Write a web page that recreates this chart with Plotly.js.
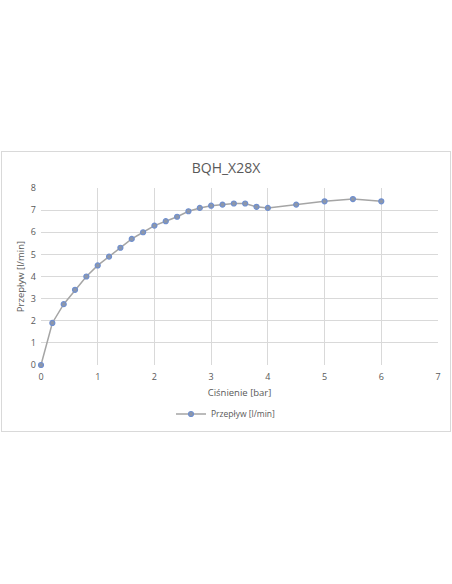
<!DOCTYPE html>
<html>
<head>
<meta charset="utf-8">
<script src="https://cdn.plot.ly/plotly-3.0.1.min.js"></script>
<style>
  body { margin: 0; background: #fff; width: 452px; height: 584px; position: relative; }
  #chartDiv { position: absolute; left: 1px; top: 151px; width: 448px; height: 279px; border: 1px solid #d9d9d9; }
</style>
</head>
<body>
<div id="chartDiv"></div>
<script>
// cisnienie [bar] vs przeplyw [l/min]
var cisnienie = [0, 0.2, 0.4, 0.6, 0.8, 1.0, 1.2, 1.4, 1.6, 1.8, 2.0, 2.2, 2.4, 2.6, 2.8, 3.0, 3.2, 3.4, 3.6, 3.8, 4.0, 4.5, 5.0, 5.5, 6.0];
var przeplyw = [0, 1.9, 2.75, 3.4, 4.0, 4.5, 4.9, 5.3, 5.7, 6.0, 6.3, 6.5, 6.7, 6.95, 7.1, 7.2, 7.25, 7.3, 7.3, 7.15, 7.1, 7.25, 7.4, 7.5, 7.4];
var seriesName = 'Przepływ [l/min]';
var chartTitle = 'BQH_X28X';

var trace1 = {
    x: cisnienie,
    y: przeplyw,
    name: seriesName,
    mode: 'lines+markers',
    type: 'scatter',
    cliponaxis: false,
    line: { color: '#a5a5a5', width: 1.5 },
    marker: {
        size: 5,
        color: '#8e97a8',
        line: { color: '#6f8fcf', width: 1.2 }
    },
    showlegend: true
};

var txt = '#595959';
var layout = {
    width: 448,
    height: 279,
    margin: { l: 39.3, r: 11.7, t: 35.7, b: 66 },
    paper_bgcolor: '#fff',
    plot_bgcolor: '#fff',
    font: { family: 'Open Sans, sans-serif', color: txt, size: 9 },
    title: {
        text: chartTitle,
        font: { size: 14, color: txt },
        x: 0.5, xanchor: 'center',
        y: 1 - 16 / 279, yanchor: 'middle', yref: 'container'
    },
    xaxis: {
        range: [0, 7],
        dtick: 1,
        tick0: 0,
        showgrid: true,
        gridcolor: '#d9d9d9',
        zeroline: false,
        showline: false,
        ticks: '',
        ticklabelstandoff: 5,
        tickfont: { size: 9, color: txt },
        title: { text: 'Ciśnienie [bar]', font: { size: 9.5, color: txt }, standoff: 10 },
        fixedrange: true
    },
    yaxis: {
        range: [0, 8],
        dtick: 1,
        tick0: 0,
        showgrid: true,
        gridcolor: '#d9d9d9',
        zeroline: false,
        showline: false,
        ticks: '',
        ticklabelstandoff: 4,
        tickfont: { size: 9, color: txt },
        title: { text: 'Przepływ [l/min]', font: { size: 9.5, color: txt }, standoff: 4 },
        fixedrange: true
    },
    legend: {
        orientation: 'h',
        xref: 'container',
        yref: 'container',
        x: 0.5, xanchor: 'center',
        y: 1 - 262 / 279, yanchor: 'middle',
        font: { size: 8.5, color: txt },
        bgcolor: 'rgba(0,0,0,0)'
    },
    showlegend: true
};

Plotly.newPlot('chartDiv', [trace1], layout, { displayModeBar: false, staticPlot: true });
</script>
</body>
</html>
